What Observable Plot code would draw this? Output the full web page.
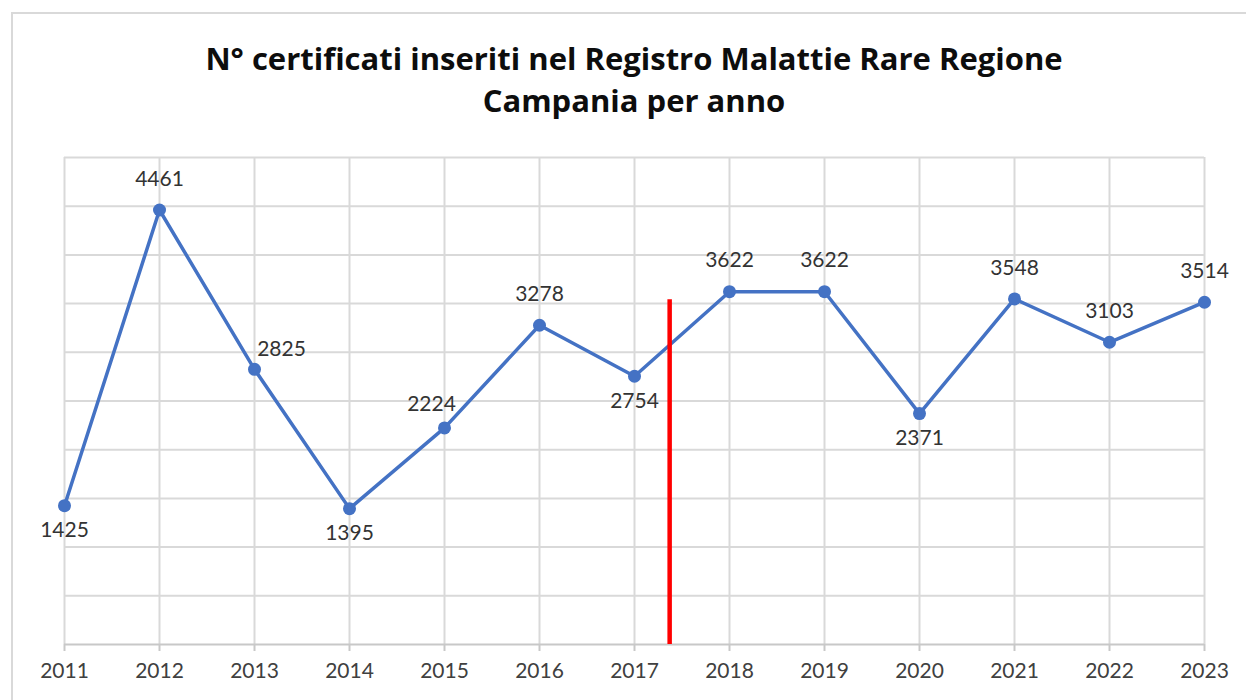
<!DOCTYPE html>
<html>
<head>
<meta charset="utf-8">
<script src="https://cdn.jsdelivr.net/npm/d3@7"></script>
<script src="https://cdn.jsdelivr.net/npm/@observablehq/plot@0.6"></script>
<style>
  html, body { margin: 0; padding: 0; background: #fff; width: 1246px; height: 700px; overflow: hidden; }
  #frame { position: absolute; left: 11px; top: 12px; width: 1300px; height: 760px; border: 2px solid #d9d9d9; box-sizing: border-box; }
  #title { position: absolute; left: 0; top: 37px; width: 1268px; text-align: center; font-family: "Open Sans", Lato, sans-serif; font-weight: bold; font-size: 31px; line-height: 42px; color: #0d0d0d; }
  #chart { position: absolute; left: 0; top: 145px; }
</style>
</head>
<body>
<div id="frame"></div>
<div id="title">N° certificati inseriti nel Registro Malattie Rare Regione<br>Campania per anno</div>
<div id="chart"></div>
<script>
const years = [2011, 2012, 2013, 2014, 2015, 2016, 2017, 2018, 2019, 2020, 2021, 2022, 2023];
const values = [1425, 4461, 2825, 1395, 2224, 3278, 2754, 3622, 3622, 2371, 3548, 3103, 3514];
const labelSide = ["below", "above", "right", "below", "left", "above", "below", "above", "above", "below", "above", "above", "above"];
const yGrid = [0, 500, 1000, 1500, 2000, 2500, 3000, 3500, 4000, 4500, 5000];
const markerYear = [2017.37];
const markerTop = [3540];

const data = years.map((y, i) => ({year: y, value: values[i], side: labelSide[i]}));
const bySide = s => data.filter(d => d.side === s);
const blue = "#4472C4";
const font = "Lato, 'Open Sans', sans-serif";
const lbl = {x: "year", y: "value", text: d => String(d.value), fill: "#333", fontSize: 21};

const chart = Plot.plot({
  width: 1246,
  height: 560,
  marginTop: 12,
  marginLeft: 64,
  marginRight: 42,
  marginBottom: 61,
  style: {fontFamily: font, fontSize: "21px", color: "#404040", background: "transparent"},
  x: {type: "linear", domain: [2011, 2023], label: null},
  y: {domain: [0, 5000], axis: null},
  marks: [
    Plot.ruleY(yGrid.slice(1), {stroke: "#d9d9d9", strokeWidth: 2}),
    Plot.ruleX(years, {y1: 0, y2: 5000, stroke: "#d9d9d9", strokeWidth: 2}),
    Plot.ruleY([0], {stroke: "#c8c8c8", strokeWidth: 2}),
    Plot.axisX({ticks: years, tickFormat: d3.format("d"), tickSize: 7, tickPadding: 12, stroke: "#c8c8c8", strokeWidth: 2, fill: "#404040", fontSize: 21}),
    Plot.line(data, {x: "year", y: "value", stroke: blue, strokeWidth: 3.5}),
    Plot.dot(data, {x: "year", y: "value", r: 6.5, fill: blue, stroke: "none"}),
    Plot.ruleX(markerYear, {y1: 0, y2: markerTop[0], stroke: "#ff0000", strokeWidth: 4.5}),
    Plot.text(bySide("above"), {...lbl, dy: -31}),
    Plot.text(bySide("below"), {...lbl, dy: 25}),
    Plot.text(bySide("right"), {...lbl, dx: 27, dy: -20}),
    Plot.text(bySide("left"), {...lbl, dx: -13, dy: -24})
  ]
});
document.getElementById("chart").appendChild(chart);
</script>
</body>
</html>
